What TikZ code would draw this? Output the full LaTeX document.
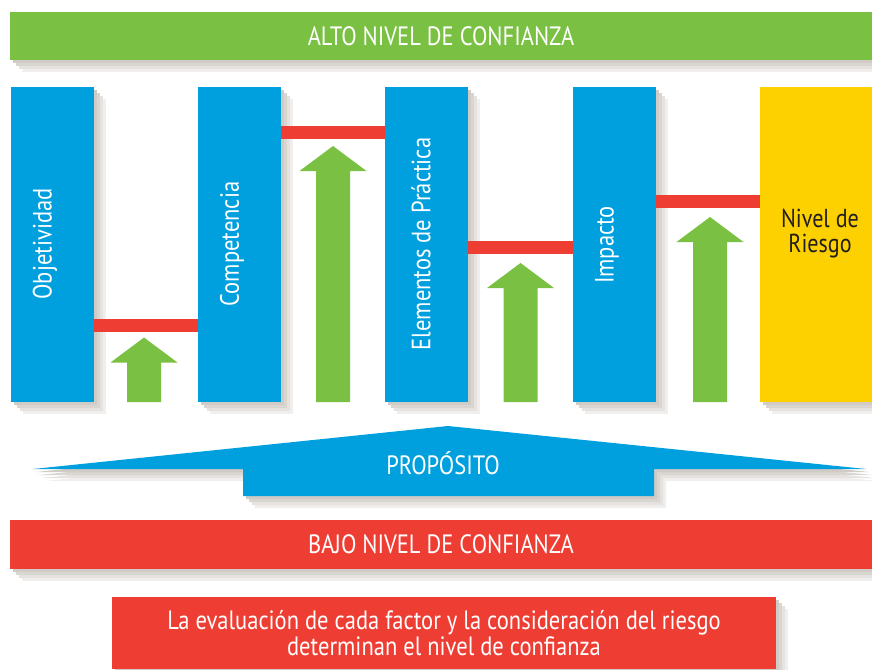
\documentclass[tikz,border=0pt]{standalone}
\usepackage{fontspec}
\setmainfont{PT Sans}[FakeStretch=0.85]
\usetikzlibrary{calc,shadows}
\definecolor{cblue}{RGB}{0,160,223}
\definecolor{cgreen}{RGB}{122,193,67}
\definecolor{cred}{RGB}{238,62,52}
\definecolor{cyellow}{RGB}{253,208,0}
\definecolor{cshadow}{RGB}{208,203,196}
\definecolor{ctext}{RGB}{35,31,32}
\tikzset{
  shad/.style={
    drop shadow={shadow xshift=12pt, shadow yshift=-12pt, fill=cshadow!30, opacity=1},
    drop shadow={shadow xshift=9pt, shadow yshift=-9pt, fill=cshadow!55, opacity=1},
    drop shadow={shadow xshift=6pt, shadow yshift=-6pt, fill=cshadow!80, opacity=1},
    drop shadow={shadow xshift=3pt, shadow yshift=-3pt, fill=cshadow, opacity=1}},
  bar/.style={shad, rectangle, inner sep=0pt, text=white, font=\fontsize{26.5}{30}\selectfont},
  col/.style={shad, rectangle, fill=cblue, inner sep=0pt, minimum width=83pt, minimum height=315pt},
  collabel/.style={rotate=90, text=white, inner sep=0pt, font=\fontsize{26.5}{30}\selectfont},
  link/.style={draw=cred, line width=13pt},
  upar/.style={fill=cgreen},
}
\newcommand\greenarrow[2]{%
  \fill[upar] (#1,#2) -- ({#1+33.5},{#2+25}) -- ({#1+17},{#2+25}) -- ({#1+17},402)
     -- ({#1-17},402) -- ({#1-17},{#2+25}) -- ({#1-33.5},{#2+25}) -- cycle;}
\begin{document}
\begin{tikzpicture}[x=1pt,y=-1pt]
\useasboundingbox (0,0) rectangle (872,669);
% top bar
\node[bar, fill=cgreen, minimum width=862pt, minimum height=48pt] (alto) at (441,36) {ALTO NIVEL DE CONFIANZA};
% columns
\node[col] (obj) at (52.5,244.5) {};
\node[col] (comp) at (239.5,244.5) {};
\node[col] (elem) at (426.5,244.5) {};
\node[col] (imp) at (614.5,244.5) {};
\node[shad, rectangle, fill=cyellow, inner sep=0pt, minimum width=112pt, minimum height=315pt] (riesgo) at (816,244.5) {};
\node[collabel] (lobj) at (45,244) {Objetividad};
\node[collabel] (lcomp) at (232,244) {Competencia};
\node[collabel] (lelem) at (421,244) {Elementos de Práctica};
\node[collabel] (limp) at (607,245) {Impacto};
\node[text=ctext, align=center, inner sep=0pt, font=\fontsize{26}{25}\selectfont] (lriesgo) at (820,234) {Nivel de\\Riesgo};
% red links
\coordinate (y1) at (0,325.5);
\coordinate (y2) at (0,132.5);
\coordinate (y3) at (0,247.3);
\coordinate (y4) at (0,201.5);
\draw[link] (obj.east |- y1) -- (comp.west |- y1);
\draw[link] (comp.east |- y2) -- (elem.west |- y2);
\draw[link] (elem.east |- y3) -- (imp.west |- y3);
\draw[link] (imp.east |- y4) -- (riesgo.west |- y4);
% green arrows
\greenarrow{144}{337.5}
\greenarrow{333}{146}
\greenarrow{520.5}{263}
\greenarrow{710}{217}
% proposito
\fill[shad, cblue] (33,469) -- (448,426) -- (866,469) -- (654,469) -- (654,496) -- (243,496) -- (243,469) -- cycle;
\node[text=white, inner sep=0pt, font=\fontsize{26.5}{30}\selectfont] (prop) at (443,463) {PROPÓSITO};
% bottom bar
\node[bar, fill=cred, minimum width=862pt, minimum height=49pt] (bajo) at (441,544.5) {BAJO NIVEL DE CONFIANZA};
% note box
\node[bar, fill=cred, minimum width=664pt, minimum height=72pt, align=center, font=\fontsize{26.5}{26}\selectfont] (nota) at (444,633) {La evaluación de cada factor y la consideración del riesgo\\determinan el nivel de confianza};
\end{tikzpicture}
\end{document}
